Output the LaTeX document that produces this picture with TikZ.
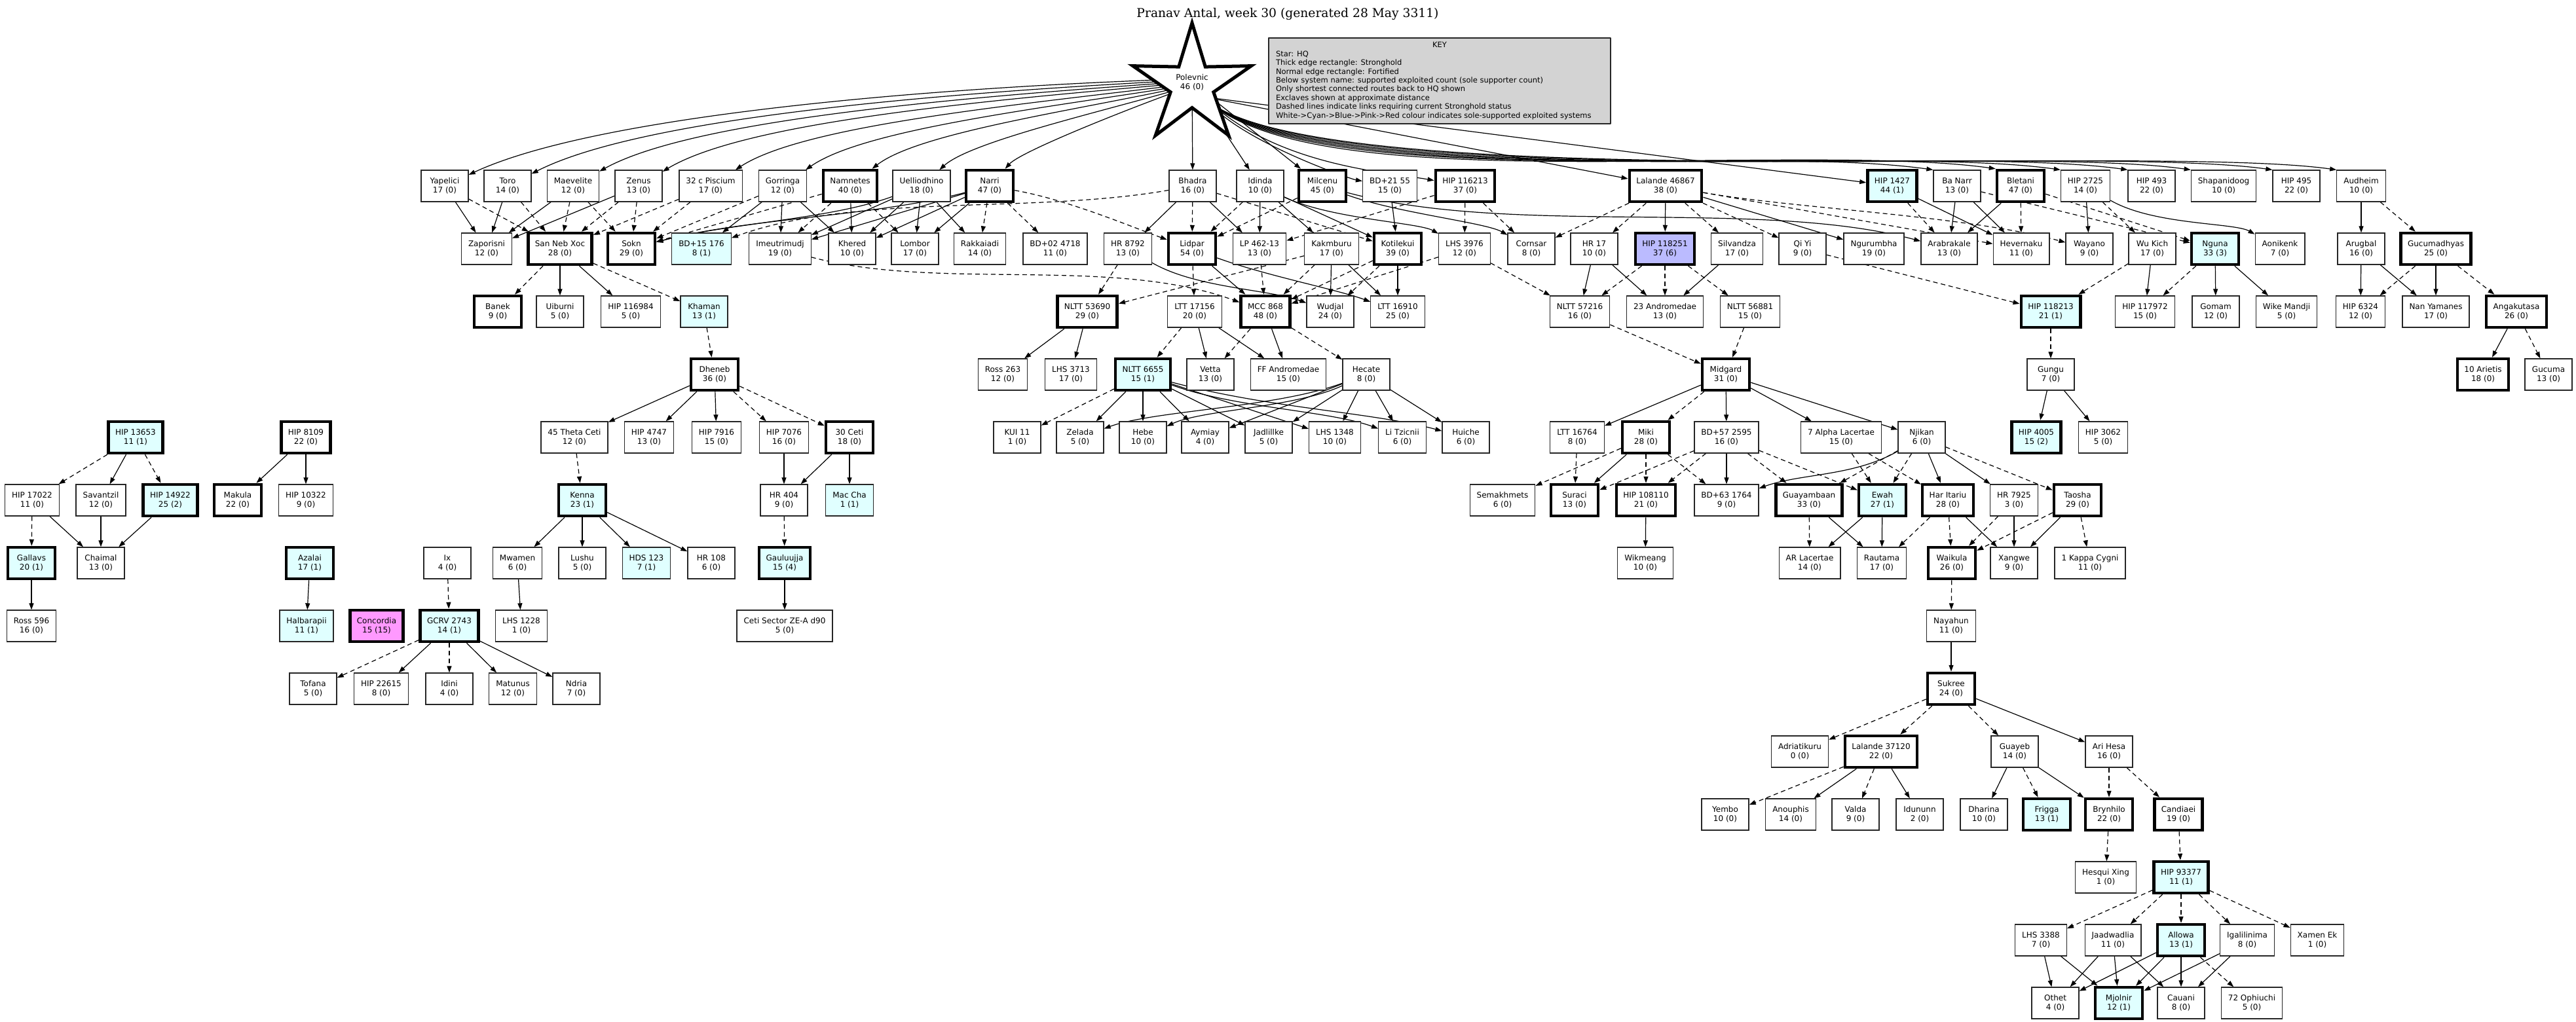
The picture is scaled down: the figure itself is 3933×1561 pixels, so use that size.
\documentclass[tikz,border=0pt]{standalone}
\usepackage{fontspec}
\setmainfont{DejaVu Sans}
\newfontfamily\serifface{DejaVu Serif}
\usepackage{tikz}
\usetikzlibrary{arrows.meta}
\pgfdeclarelayer{background}
\pgfsetlayers{background,main}
\definecolor{solecyan}{HTML}{E0FFFF}
\definecolor{soleblue}{HTML}{BBBBFF}
\definecolor{solepink}{HTML}{FF99FF}
\definecolor{keygray}{HTML}{D3D3D3}
\newcommand{\sysfont}{\fontsize{12bp}{13.8bp}\selectfont}
\newcommand{\keyfont}{\fontsize{11.5bp}{13.4bp}\selectfont}
\newcommand{\headfont}{\fontsize{18.7bp}{22bp}\selectfont\serifface}

\begin{document}
\begin{tikzpicture}[>={Triangle[length=10bp,width=7bp]},line join=bevel,
  sys/.style={draw=black!85,line width=1.3bp,line join=miter,fill=white,minimum width=72bp,minimum height=48bp,inner xsep=10.5bp,inner ysep=2bp,align=center,font=\sysfont},
  hold/.style={sys,draw=black,line width=4.5bp},
  sole/.style={fill=solecyan},
  link/.style={black,->,line width=1.2bp},
  slink/.style={link,dash pattern=on 7bp off 5bp}]
\begin{pgfonlayer}{background}
\path [use as bounding box,fill=white] (0bp,0bp) rectangle (3933bp,-1561bp);
\end{pgfonlayer}
%%
\node (title) at (1966bp,-21bp) [font=\headfont] {Pranav Antal, week 30 (generated 28 May 3311)};
\draw [line width=5bp,line join=miter,fill=white] (1820bp,-130bp) +(90:95bp) -- +(126:34.5bp) -- +(162:95bp) -- +(198:34.5bp) -- +(234:95bp) -- +(270:34.5bp) -- +(306:95bp) -- +(342:34.5bp) -- +(18:95bp) -- +(54:34.5bp) -- cycle;
\node (hq) at (1820bp,-126bp) [circle,minimum size=50bp,inner sep=0pt,align=center,font=\sysfont] {Polevnic\\46 (0)};
\node (key) at (2198bp,-123.5bp) [draw=black!85,line width=1.3bp,fill=keygray,inner xsep=11bp,inner ysep=0bp,minimum height=131bp,font=\keyfont] {\parbox{500bp}{\raggedright\makebox[500bp]{KEY}\\Star: HQ\\Thick edge rectangle: Stronghold\\Normal edge rectangle: Fortified\\Below system name: supported exploited count (sole supporter count)\\Only shortest connected routes back to HQ shown\\Exclaves shown at approximate distance\\Dashed lines indicate links requiring current Stronghold status\\White->Cyan->Blue->Pink->Red colour indicates sole-supported exploited systems}};
%
\node (yapelici) at (679bp,-284bp) [sys] {Yapelici\\17 (0)};
\node (toro) at (775bp,-284bp) [sys] {Toro\\14 (0)};
\node (maevelite) at (875bp,-284bp) [sys] {Maevelite\\12 (0)};
\node (zenus) at (975bp,-284bp) [sys] {Zenus\\13 (0)};
\node (piscium) at (1085bp,-284bp) [sys] {32 c Piscium\\17 (0)};
\node (gorringa) at (1195bp,-284bp) [sys] {Gorringa\\12 (0)};
\node (namnetes) at (1298bp,-284bp) [hold] {Namnetes\\40 (0)};
\node (uelliodhino) at (1407bp,-284bp) [sys] {Uelliodhino\\18 (0)};
\node (narri) at (1511bp,-284bp) [hold] {Narri\\47 (0)};
\node (bhadra) at (1821bp,-284bp) [sys] {Bhadra\\16 (0)};
\node (idinda) at (1924bp,-284bp) [sys] {Idinda\\10 (0)};
\node (milcenu) at (2019bp,-284bp) [hold] {Milcenu\\45 (0)};
\node (bd2155) at (2122bp,-284bp) [sys] {BD+21 55\\15 (0)};
\node (hip116213) at (2237bp,-284bp) [hold] {HIP 116213\\37 (0)};
\node (lalande46867) at (2543bp,-284bp) [hold] {Lalande 46867\\38 (0)};
\node (hip1427) at (2889bp,-284bp) [hold,sole] {HIP 1427\\44 (1)};
\node (banarr) at (2988bp,-284bp) [sys] {Ba Narr\\13 (0)};
\node (bletani) at (3085bp,-284bp) [hold] {Bletani\\47 (0)};
\node (hip2725) at (3184bp,-284bp) [sys] {HIP 2725\\14 (0)};
\node (hip493) at (3285bp,-284bp) [sys] {HIP 493\\22 (0)};
\node (shapanidoog) at (3395bp,-284bp) [sys] {Shapanidoog\\10 (0)};
\node (hip495) at (3506bp,-284bp) [sys] {HIP 495\\22 (0)};
\node (audheim) at (3605bp,-284bp) [sys] {Audheim\\10 (0)};
%
\node (zaporisni) at (743bp,-380bp) [sys] {Zaporisni\\12 (0)};
\node (sannebxoc) at (855bp,-380bp) [hold] {San Neb Xoc\\28 (0)};
\node (sokn) at (964bp,-380bp) [hold] {Sokn\\29 (0)};
\node (bd15176) at (1071bp,-380bp) [sys,sole] {BD+15 176\\8 (1)};
\node (imeutrimudj) at (1191bp,-380bp) [sys] {Imeutrimudj\\19 (0)};
\node (khered) at (1301bp,-380bp) [sys] {Khered\\10 (0)};
\node (lombor) at (1397bp,-380bp) [sys] {Lombor\\17 (0)};
\node (rakkaiadi) at (1496bp,-380bp) [sys] {Rakkaiadi\\14 (0)};
\node (bd024718) at (1611bp,-380bp) [sys] {BD+02 4718\\11 (0)};
\node (hr8792) at (1722bp,-380bp) [sys] {HR 8792\\13 (0)};
\node (lidpar) at (1820bp,-380bp) [hold] {Lidpar\\54 (0)};
\node (lp46213) at (1923bp,-380bp) [sys] {LP 462-13\\13 (0)};
\node (kakmburu) at (2033bp,-380bp) [sys] {Kakmburu\\17 (0)};
\node (kotilekui) at (2134bp,-380bp) [hold] {Kotilekui\\39 (0)};
\node (lhs3976) at (2236bp,-380bp) [sys] {LHS 3976\\12 (0)};
\node (cornsar) at (2338bp,-380bp) [sys] {Cornsar\\8 (0)};
\node (hr17) at (2434bp,-380bp) [sys] {HR 17\\10 (0)};
\node (hip118251) at (2542bp,-380bp) [hold,fill=soleblue] {HIP 118251\\37 (6)};
\node (silvandza) at (2652bp,-380bp) [sys] {Silvandza\\17 (0)};
\node (qiyi) at (2752bp,-380bp) [sys] {Qi Yi\\9 (0)};
\node (ngurumbha) at (2861bp,-380bp) [sys] {Ngurumbha\\19 (0)};
\node (arabrakale) at (2976bp,-380bp) [sys] {Arabrakale\\13 (0)};
\node (hevernaku) at (3086bp,-380bp) [sys] {Hevernaku\\11 (0)};
\node (wayano) at (3190bp,-380bp) [sys] {Wayano\\9 (0)};
\node (wukich) at (3286bp,-380bp) [sys] {Wu Kich\\17 (0)};
\node (nguna) at (3382bp,-380bp) [hold,sole] {Nguna\\33 (3)};
\node (aonikenk) at (3481bp,-380bp) [sys] {Aonikenk\\7 (0)};
\node (arugbal) at (3605bp,-380bp) [sys] {Arugbal\\16 (0)};
\node (gucumadhyas) at (3719bp,-380bp) [hold] {Gucumadhyas\\25 (0)};
%
\node (banek) at (760bp,-476bp) [hold] {Banek\\9 (0)};
\node (uiburni) at (855bp,-476bp) [sys] {Uiburni\\5 (0)};
\node (hip116984) at (963bp,-476bp) [sys] {HIP 116984\\5 (0)};
\node (khaman) at (1075bp,-476bp) [sys,sole] {Khaman\\13 (1)};
\node (nltt53690) at (1660bp,-476bp) [hold] {NLTT 53690\\29 (0)};
\node (ltt17156) at (1824bp,-476bp) [sys] {LTT 17156\\20 (0)};
\node (mcc868) at (1932bp,-476bp) [hold] {MCC 868\\48 (0)};
\node (wudjal) at (2031bp,-476bp) [sys] {Wudjal\\24 (0)};
\node (ltt16910) at (2134bp,-476bp) [sys] {LTT 16910\\25 (0)};
\node (nltt57216) at (2412bp,-476bp) [sys] {NLTT 57216\\16 (0)};
\node (andromedae) at (2542bp,-476bp) [sys] {23 Andromedae\\13 (0)};
\node (nltt56881) at (2672bp,-476bp) [sys] {NLTT 56881\\15 (0)};
\node (hip118213) at (3131bp,-476bp) [hold,sole] {HIP 118213\\21 (1)};
\node (hip117972) at (3275bp,-476bp) [sys] {HIP 117972\\15 (0)};
\node (gomam) at (3383bp,-476bp) [sys] {Gomam\\12 (0)};
\node (wikemandji) at (3491bp,-476bp) [sys] {Wike Mandji\\5 (0)};
\node (hip6324) at (3604bp,-476bp) [sys] {HIP 6324\\12 (0)};
\node (nanyamanes) at (3719bp,-476bp) [sys] {Nan Yamanes\\17 (0)};
\node (angakutasa) at (3842bp,-476bp) [hold] {Angakutasa\\26 (0)};
%
\node (dheneb) at (1091bp,-572bp) [hold] {Dheneb\\36 (0)};
\node (ross263) at (1531bp,-572bp) [sys] {Ross 263\\12 (0)};
\node (lhs3713) at (1635bp,-572bp) [sys] {LHS 3713\\17 (0)};
\node (nltt6655) at (1745bp,-572bp) [hold,sole] {NLTT 6655\\15 (1)};
\node (vetta) at (1848bp,-572bp) [sys] {Vetta\\13 (0)};
\node (ffandromedae) at (1967bp,-572bp) [sys] {FF Andromedae\\15 (0)};
\node (hecate) at (2086bp,-572bp) [sys] {Hecate\\8 (0)};
\node (midgard) at (2635bp,-572bp) [hold] {Midgard\\31 (0)};
\node (gungu) at (3131bp,-572bp) [sys] {Gungu\\7 (0)};
\node (arietis) at (3791bp,-572bp) [hold] {10 Arietis\\18 (0)};
\node (gucuma) at (3891bp,-572bp) [sys] {Gucuma\\13 (0)};
%
\node (hip13653) at (207bp,-668bp) [hold,sole] {HIP 13653\\11 (1)};
\node (hip8109) at (467bp,-668bp) [hold] {HIP 8109\\22 (0)};
\node (thetaceti) at (877bp,-668bp) [sys] {45 Theta Ceti\\12 (0)};
\node (hip4747) at (991bp,-668bp) [sys] {HIP 4747\\13 (0)};
\node (hip7916) at (1094bp,-668bp) [sys] {HIP 7916\\15 (0)};
\node (hip7076) at (1197bp,-668bp) [sys] {HIP 7076\\16 (0)};
\node (ceti30) at (1297bp,-668bp) [hold] {30 Ceti\\18 (0)};
\node (kui11) at (1553bp,-668bp) [sys] {KUI 11\\1 (0)};
\node (zelada) at (1649bp,-668bp) [sys] {Zelada\\5 (0)};
\node (hebe) at (1745bp,-668bp) [sys] {Hebe\\10 (0)};
\node (aymiay) at (1840bp,-668bp) [sys] {Aymiay\\4 (0)};
\node (jadlillke) at (1937bp,-668bp) [sys] {Jadlillke\\5 (0)};
\node (lhs1348) at (2038bp,-668bp) [sys] {LHS 1348\\10 (0)};
\node (litzicnii) at (2141bp,-668bp) [sys] {Li Tzicnii\\6 (0)};
\node (huiche) at (2238bp,-668bp) [sys] {Huiche\\6 (0)};
\node (ltt16764) at (2408bp,-668bp) [sys] {LTT 16764\\8 (0)};
\node (miki) at (2513bp,-668bp) [hold] {Miki\\28 (0)};
\node (bd572595) at (2636bp,-668bp) [sys] {BD+57 2595\\16 (0)};
\node (alphalac) at (2811bp,-668bp) [sys] {7 Alpha Lacertae\\15 (0)};
\node (njikan) at (2934bp,-668bp) [sys] {Njikan\\6 (0)};
\node (hip4005) at (3109bp,-668bp) [hold,sole] {HIP 4005\\15 (2)};
\node (hip3062) at (3211bp,-668bp) [sys] {HIP 3062\\5 (0)};
%
\node (hip17022) at (49bp,-764bp) [sys] {HIP 17022\\11 (0)};
\node (savantzil) at (154bp,-764bp) [sys] {Savantzil\\12 (0)};
\node (hip14922) at (260bp,-764bp) [hold,sole] {HIP 14922\\25 (2)};
\node (makula) at (363bp,-764bp) [hold] {Makula\\22 (0)};
\node (hip10322) at (467bp,-764bp) [sys] {HIP 10322\\9 (0)};
\node (kenna) at (889bp,-764bp) [hold,sole] {Kenna\\23 (1)};
\node (hr404) at (1197bp,-764bp) [sys] {HR 404\\9 (0)};
\node (maccha) at (1297bp,-764bp) [sys,sole] {Mac Cha\\1 (1)};
\node (semakhmets) at (2294bp,-764bp) [sys] {Semakhmets\\6 (0)};
\node (suraci) at (2404bp,-764bp) [hold] {Suraci\\13 (0)};
\node (hip108110) at (2513bp,-764bp) [hold] {HIP 108110\\21 (0)};
\node (bd631764) at (2636bp,-764bp) [sys] {BD+63 1764\\9 (0)};
\node (guayambaan) at (2762bp,-764bp) [hold] {Guayambaan\\33 (0)};
\node (ewah) at (2874bp,-764bp) [hold,sole] {Ewah\\27 (1)};
\node (haritariu) at (2974bp,-764bp) [hold] {Har Itariu\\28 (0)};
\node (hr7925) at (3075bp,-764bp) [sys] {HR 7925\\3 (0)};
\node (taosha) at (3172bp,-764bp) [hold] {Taosha\\29 (0)};
%
\node (gallavs) at (48bp,-860bp) [hold,sole] {Gallavs\\20 (1)};
\node (chaimal) at (154bp,-860bp) [sys] {Chaimal\\13 (0)};
\node (azalai) at (473bp,-860bp) [hold,sole] {Azalai\\17 (1)};
\node (ix) at (683bp,-860bp) [sys] {Ix\\4 (0)};
\node (mwamen) at (790bp,-860bp) [sys] {Mwamen\\6 (0)};
\node (lushu) at (889bp,-860bp) [sys] {Lushu\\5 (0)};
\node (hds123) at (987bp,-860bp) [sys,sole] {HDS 123\\7 (1)};
\node (hr108) at (1086bp,-860bp) [sys] {HR 108\\6 (0)};
\node (gauluujja) at (1198bp,-860bp) [hold,sole] {Gauluujja\\15 (4)};
\node (wikmeang) at (2512bp,-860bp) [sys] {Wikmeang\\10 (0)};
\node (arlacertae) at (2763bp,-860bp) [sys] {AR Lacertae\\14 (0)};
\node (rautama) at (2873bp,-860bp) [sys] {Rautama\\17 (0)};
\node (waikula) at (2980bp,-860bp) [hold] {Waikula\\26 (0)};
\node (xangwe) at (3075bp,-860bp) [sys] {Xangwe\\9 (0)};
\node (kappacygni) at (3191bp,-860bp) [sys] {1 Kappa Cygni\\11 (0)};
%
\node (ross596) at (48bp,-956bp) [sys] {Ross 596\\16 (0)};
\node (halbarapii) at (468bp,-956bp) [sys,sole] {Halbarapii\\11 (1)};
\node (concordia) at (575bp,-956bp) [hold,fill=solepink] {Concordia\\15 (15)};
\node (gcrv2743) at (686bp,-956bp) [hold,sole] {GCRV 2743\\14 (1)};
\node (lhs1228) at (796bp,-956bp) [sys] {LHS 1228\\1 (0)};
\node (cetisector) at (1198bp,-956bp) [sys] {Ceti Sector ZE-A d90\\5 (0)};
\node (nayahun) at (2979bp,-956bp) [sys] {Nayahun\\11 (0)};
%
\node (tofana) at (478bp,-1052bp) [sys] {Tofana\\5 (0)};
\node (hip22615) at (582bp,-1052bp) [sys] {HIP 22615\\8 (0)};
\node (idini) at (686bp,-1052bp) [sys] {Idini\\4 (0)};
\node (matunus) at (783bp,-1052bp) [sys] {Matunus\\12 (0)};
\node (ndria) at (880bp,-1052bp) [sys] {Ndria\\7 (0)};
\node (sukree) at (2979bp,-1052bp) [hold] {Sukree\\24 (0)};
%
\node (adriatikuru) at (2748bp,-1148bp) [sys] {Adriatikuru\\0 (0)};
\node (lalande37120) at (2872bp,-1148bp) [hold] {Lalande 37120\\22 (0)};
\node (guayeb) at (3076bp,-1148bp) [sys] {Guayeb\\14 (0)};
\node (arihesa) at (3220bp,-1148bp) [sys] {Ari Hesa\\16 (0)};
%
\node (yembo) at (2634bp,-1244bp) [sys] {Yembo\\10 (0)};
\node (anouphis) at (2734bp,-1244bp) [sys] {Anouphis\\14 (0)};
\node (valda) at (2833bp,-1244bp) [sys] {Valda\\9 (0)};
\node (idununn) at (2931bp,-1244bp) [sys] {Idununn\\2 (0)};
\node (dharina) at (3029bp,-1244bp) [sys] {Dharina\\10 (0)};
\node (frigga) at (3125bp,-1244bp) [hold,sole] {Frigga\\13 (1)};
\node (brynhilo) at (3220bp,-1244bp) [hold] {Brynhilo\\22 (0)};
\node (candiaei) at (3326bp,-1244bp) [hold] {Candiaei\\19 (0)};
%
\node (hesquixing) at (3215bp,-1340bp) [sys] {Hesqui Xing\\1 (0)};
\node (hip93377) at (3330bp,-1340bp) [hold,sole] {HIP 93377\\11 (1)};
\node (lhs3388) at (3116bp,-1436bp) [sys] {LHS 3388\\7 (0)};
\node (jaadwadlia) at (3226bp,-1436bp) [sys] {Jaadwadlia\\11 (0)};
\node (allowa) at (3330bp,-1436bp) [hold,sole] {Allowa\\13 (1)};
\node (igalilinima) at (3431bp,-1436bp) [sys] {Igalilinima\\8 (0)};
\node (xamenek) at (3538bp,-1436bp) [sys] {Xamen Ek\\1 (0)};
\node (othet) at (3138bp,-1532bp) [sys] {Othet\\4 (0)};
\node (mjolnir) at (3235bp,-1532bp) [hold,sole] {Mjolnir\\12 (1)};
\node (cauani) at (3330bp,-1532bp) [sys] {Cauani\\8 (0)};
\node (ophiuchi) at (3438bp,-1532bp) [sys] {72 Ophiuchi\\5 (0)};
%
\begin{pgfonlayer}{background}
\draw [link] (hq.170) .. controls +(182:400bp) and +(25:250bp) .. (yapelici);
\draw [link] (hq.175) .. controls +(183:360bp) and +(27:230bp) .. (toro);
\draw [link] (hq.180) .. controls +(184:320bp) and +(29:210bp) .. (maevelite);
\draw [link] (hq.185) .. controls +(185:290bp) and +(31:190bp) .. (zenus);
\draw [link] (hq.190) .. controls +(187:250bp) and +(33:170bp) .. (piscium);
\draw [link] (hq.195) .. controls +(189:210bp) and +(35:150bp) .. (gorringa);
\draw [link] (hq.200) .. controls +(192:170bp) and +(38:130bp) .. (namnetes);
\draw [link] (hq.205) .. controls +(196:130bp) and +(42:100bp) .. (uelliodhino);
\draw [link] (hq.210) .. controls +(200:90bp) and +(48:70bp) .. (narri);
\draw [link] (hq) -- (bhadra);
\draw [link] (hq) -- (idinda);
\draw [link] (hq) -- (milcenu);
\draw [link] (hq.-50) .. controls +(-55:80bp) and +(170:60bp) .. (bd2155);
\draw [link] (hq.-50) .. controls +(-45:150bp) and +(170:120bp) .. (hip116213);
\draw [link] (hq.-52) -- (lalande46867);
\draw [link] (hq.-52) -- (hip1427);
\draw [link] (hq.-52) .. controls +(-45:220bp) and +(172:300bp) .. (banarr.north west);
\draw [link] (hq.-52) .. controls +(-45:220bp) and +(172:300bp) .. (bletani.north west);
\draw [link] (hq.-52) .. controls +(-45:220bp) and +(172:300bp) .. (hip2725.north west);
\draw [link] (hq.-52) .. controls +(-45:220bp) and +(172:300bp) .. (hip493.north west);
\draw [link] (hq.-52) .. controls +(-45:220bp) and +(172:300bp) .. (shapanidoog.north west);
\draw [link] (hq.-52) .. controls +(-45:220bp) and +(172:300bp) .. (hip495.north west);
\draw [link] (hq.-52) .. controls +(-45:220bp) and +(172:300bp) .. (audheim.north west);
%
\draw [link] (yapelici) -- (zaporisni);
\draw [slink] (yapelici) -- (sannebxoc);
\draw [link] (toro) -- (zaporisni);
\draw [slink] (toro) -- (sannebxoc);
\draw [link] (maevelite) -- (zaporisni);
\draw [slink] (maevelite) -- (sannebxoc);
\draw [slink] (maevelite) -- (sokn);
\draw [link] (zenus) -- (zaporisni);
\draw [slink] (zenus) -- (sannebxoc);
\draw [slink] (zenus) -- (sokn);
\draw [slink] (piscium) -- (sannebxoc);
\draw [slink] (piscium) -- (sokn);
\draw [slink] (gorringa) -- (sokn);
\draw [link] (gorringa) -- (bd15176);
\draw [link] (gorringa) -- (imeutrimudj);
\draw [link] (gorringa) -- (khered);
\draw [slink] (namnetes) -- (sokn);
\draw [slink] (namnetes) -- (imeutrimudj);
\draw [link] (namnetes) -- (khered);
\draw [slink] (namnetes) -- (lombor);
\draw [link] (uelliodhino) .. controls +(-160:150bp) and +(15:150bp) .. (sokn);
\draw [link] (uelliodhino) -- (imeutrimudj);
\draw [link] (uelliodhino) -- (khered);
\draw [link] (uelliodhino) -- (lombor);
\draw [link] (uelliodhino) -- (rakkaiadi);
\draw [link] (narri) .. controls +(-165:180bp) and +(15:180bp) .. (sokn);
\draw [link] (narri) -- (imeutrimudj);
\draw [link] (narri) -- (khered);
\draw [link] (narri) -- (lombor);
\draw [slink] (narri) -- (rakkaiadi);
\draw [slink] (narri) -- (bd024718);
\draw [slink] (narri) .. controls +(-10:120bp) and +(160:100bp) .. (lidpar);
\draw [slink] (bhadra) .. controls +(190:250bp) and +(20:250bp) .. (bd15176);
\draw [link] (bhadra) -- (hr8792);
\draw [slink] (bhadra) -- (lidpar);
\draw [link] (bhadra) -- (lp46213);
\draw [slink] (bhadra) -- (kotilekui);
\draw [slink] (idinda) -- (lidpar);
\draw [link] (idinda) -- (lp46213);
\draw [link] (idinda) -- (kakmburu);
\draw [link] (idinda) -- (kotilekui);
\draw [link] (idinda) .. controls +(-25:120bp) and +(150:80bp) .. (lhs3976);
\draw [slink] (milcenu) -- (lidpar);
\draw [link] (milcenu) .. controls +(-20:120bp) and +(150:80bp) .. (cornsar);
\draw [link] (milcenu) .. controls +(-15:300bp) and +(165:300bp) .. (arabrakale);
\draw [link] (bd2155) -- (kotilekui);
\draw [slink] (hip116213) -- (lp46213);
\draw [slink] (hip116213) -- (lhs3976);
\draw [slink] (hip116213) -- (cornsar);
\draw [slink] (lalande46867) -- (cornsar);
\draw [slink] (lalande46867) -- (hr17);
\draw [link] (lalande46867) -- (hip118251);
\draw [slink] (lalande46867) -- (silvandza);
\draw [slink] (lalande46867) -- (qiyi);
\draw [link] (lalande46867) -- (ngurumbha);
\draw [slink] (lalande46867) -- (hevernaku);
\draw [slink] (lalande46867) .. controls +(-10:200bp) and +(165:200bp) .. (wayano);
\draw [slink] (hip1427) -- (arabrakale);
\draw [link] (hip1427) -- (hevernaku);
\draw [link] (banarr) -- (arabrakale);
\draw [link] (banarr) -- (hevernaku);
\draw [slink] (banarr) -- (nguna);
\draw [link] (bletani) -- (arabrakale);
\draw [slink] (bletani) -- (hevernaku);
\draw [slink] (bletani) -- (nguna);
\draw [link] (hip2725) -- (wayano);
\draw [slink] (hip2725) -- (wukich);
\draw [link] (hip2725) .. controls +(-30:120bp) and +(150:80bp) .. (aonikenk);
\draw [link] (audheim) -- (arugbal);
\draw [slink] (audheim) -- (gucumadhyas);
%
\draw [slink] (sannebxoc) -- (banek);
\draw [link] (sannebxoc) -- (uiburni);
\draw [link] (sannebxoc) -- (hip116984);
\draw [slink] (sannebxoc) -- (khaman);
\draw [slink] (imeutrimudj) .. controls +(-15:250bp) and +(160:250bp) .. (mcc868);
\draw [slink] (hr8792) -- (nltt53690);
\draw [link] (hr8792) .. controls +(-30:120bp) and +(160:100bp) .. (wudjal);
\draw [slink] (lidpar) -- (ltt17156);
\draw [link] (lidpar) -- (mcc868);
\draw [link] (lidpar) .. controls +(-20:120bp) and +(160:100bp) .. (ltt16910);
\draw [slink] (lp46213) -- (mcc868);
\draw [slink] (kakmburu) -- (nltt53690);
\draw [slink] (kakmburu) -- (mcc868);
\draw [link] (kakmburu) -- (wudjal);
\draw [link] (kakmburu) -- (ltt16910);
\draw [link] (kotilekui) -- (ltt16910);
\draw [slink] (kotilekui) -- (wudjal);
\draw [slink] (kotilekui) -- (mcc868);
\draw [slink] (lhs3976) -- (mcc868);
\draw [slink] (lhs3976) -- (nltt57216);
\draw [link] (hr17) -- (nltt57216);
\draw [link] (hr17) -- (andromedae);
\draw [slink] (hip118251) -- (nltt57216);
\draw [slink] (hip118251) -- (andromedae);
\draw [slink] (hip118251) -- (nltt56881);
\draw [link] (silvandza) -- (andromedae);
\draw [slink] (qiyi) -- (hip118213);
\draw [slink] (wukich) -- (hip118213);
\draw [link] (wukich) -- (hip117972);
\draw [slink] (nguna) -- (hip117972);
\draw [link] (nguna) -- (gomam);
\draw [link] (nguna) -- (wikemandji);
\draw [link] (arugbal) -- (hip6324);
\draw [link] (arugbal) -- (nanyamanes);
\draw [slink] (gucumadhyas) -- (hip6324);
\draw [link] (gucumadhyas) -- (nanyamanes);
\draw [slink] (gucumadhyas) -- (angakutasa);
%
\draw [slink] (khaman) -- (dheneb);
\draw [link] (nltt53690) -- (ross263);
\draw [link] (nltt53690) -- (lhs3713);
\draw [slink] (ltt17156) -- (nltt6655);
\draw [link] (ltt17156) -- (vetta);
\draw [link] (ltt17156) -- (ffandromedae);
\draw [slink] (mcc868) -- (vetta);
\draw [link] (mcc868) -- (ffandromedae);
\draw [slink] (mcc868) -- (hecate);
\draw [slink] (nltt57216) -- (midgard);
\draw [slink] (nltt56881) -- (midgard);
\draw [slink] (hip118213) -- (gungu);
\draw [link] (angakutasa) -- (arietis);
\draw [slink] (angakutasa) -- (gucuma);
%
\draw [link] (dheneb) -- (thetaceti);
\draw [link] (dheneb) -- (hip4747);
\draw [link] (dheneb) -- (hip7916);
\draw [slink] (dheneb) -- (hip7076);
\draw [slink] (dheneb) -- (ceti30);
\draw [slink] (nltt6655) -- (kui11);
\draw [link] (nltt6655) -- (zelada);
\draw [link] (nltt6655) -- (hebe);
\draw [link] (nltt6655) -- (aymiay);
\draw [link] (nltt6655) -- (jadlillke);
\draw [link] (nltt6655) -- (lhs1348);
\draw [link] (nltt6655) .. controls +(-20:150bp) and +(160:120bp) .. (litzicnii);
\draw [link] (nltt6655) .. controls +(-15:200bp) and +(165:150bp) .. (huiche);
\draw [link] (hecate) .. controls +(-160:150bp) and +(20:120bp) .. (zelada);
\draw [link] (hecate) .. controls +(-155:120bp) and +(25:100bp) .. (hebe);
\draw [link] (hecate) -- (aymiay);
\draw [link] (hecate) -- (jadlillke);
\draw [link] (hecate) -- (lhs1348);
\draw [link] (hecate) -- (litzicnii);
\draw [link] (hecate) -- (huiche);
\draw [link] (midgard) -- (ltt16764);
\draw [slink] (midgard) -- (miki);
\draw [link] (midgard) -- (bd572595);
\draw [link] (midgard) -- (alphalac);
\draw [link] (midgard) -- (njikan);
\draw [link] (gungu) -- (hip4005);
\draw [link] (gungu) -- (hip3062);
%
\draw [slink] (hip13653) -- (hip17022);
\draw [link] (hip13653) -- (savantzil);
\draw [slink] (hip13653) -- (hip14922);
\draw [link] (hip8109) -- (makula);
\draw [link] (hip8109) -- (hip10322);
\draw [slink] (thetaceti) -- (kenna);
\draw [link] (hip7076) -- (hr404);
\draw [link] (ceti30) -- (hr404);
\draw [link] (ceti30) -- (maccha);
\draw [slink] (ltt16764) -- (suraci);
\draw [slink] (miki) -- (semakhmets);
\draw [link] (miki) -- (suraci);
\draw [slink] (miki) -- (hip108110);
\draw [slink] (miki) -- (bd631764);
\draw [slink] (bd572595) -- (suraci);
\draw [slink] (bd572595) -- (hip108110);
\draw [link] (bd572595) -- (bd631764);
\draw [slink] (bd572595) -- (guayambaan);
\draw [slink] (bd572595) -- (ewah);
\draw [slink] (alphalac) -- (ewah);
\draw [slink] (alphalac) -- (haritariu);
\draw [link] (njikan) .. controls +(-150:120bp) and +(20:120bp) .. (bd631764);
\draw [slink] (njikan) -- (guayambaan);
\draw [slink] (njikan) -- (ewah);
\draw [link] (njikan) -- (haritariu);
\draw [link] (njikan) -- (hr7925);
\draw [slink] (njikan) -- (taosha);
%
\draw [slink] (hip17022) -- (gallavs);
\draw [link] (hip17022) -- (chaimal);
\draw [link] (savantzil) -- (chaimal);
\draw [link] (hip14922) -- (chaimal);
\draw [link] (kenna) -- (mwamen);
\draw [link] (kenna) -- (lushu);
\draw [link] (kenna) -- (hds123);
\draw [link] (kenna) -- (hr108);
\draw [slink] (hr404) -- (gauluujja);
\draw [link] (hip108110) -- (wikmeang);
\draw [slink] (guayambaan) -- (arlacertae);
\draw [link] (guayambaan) -- (rautama);
\draw [link] (ewah) -- (arlacertae);
\draw [link] (ewah) -- (rautama);
\draw [slink] (haritariu) -- (rautama);
\draw [slink] (haritariu) -- (waikula);
\draw [link] (haritariu) -- (xangwe);
\draw [slink] (hr7925) -- (waikula);
\draw [link] (hr7925) -- (xangwe);
\draw [slink] (taosha) -- (waikula);
\draw [link] (taosha) -- (xangwe);
\draw [slink] (taosha) -- (kappacygni);
%
\draw [link] (gallavs) -- (ross596);
\draw [link] (azalai) -- (halbarapii);
\draw [slink] (ix) -- (gcrv2743);
\draw [link] (mwamen) -- (lhs1228);
\draw [link] (gauluujja) -- (cetisector);
\draw [slink] (waikula) -- (nayahun);
\draw [slink] (gcrv2743) -- (tofana);
\draw [link] (gcrv2743) -- (hip22615);
\draw [slink] (gcrv2743) -- (idini);
\draw [link] (gcrv2743) -- (matunus);
\draw [link] (gcrv2743) -- (ndria);
\draw [link] (nayahun) -- (sukree);
%
\draw [slink] (sukree) -- (adriatikuru);
\draw [slink] (sukree) -- (lalande37120);
\draw [slink] (sukree) -- (guayeb);
\draw [link] (sukree) -- (arihesa);
\draw [slink] (lalande37120) -- (yembo);
\draw [link] (lalande37120) -- (anouphis);
\draw [slink] (lalande37120) -- (valda);
\draw [link] (lalande37120) -- (idununn);
\draw [link] (guayeb) -- (dharina);
\draw [slink] (guayeb) -- (frigga);
\draw [link] (guayeb) -- (brynhilo);
\draw [slink] (arihesa) -- (brynhilo);
\draw [slink] (arihesa) -- (candiaei);
\draw [slink] (brynhilo) -- (hesquixing);
\draw [slink] (candiaei) -- (hip93377);
\draw [slink] (hip93377) -- (lhs3388);
\draw [slink] (hip93377) -- (jaadwadlia);
\draw [slink] (hip93377) -- (allowa);
\draw [slink] (hip93377) -- (igalilinima);
\draw [slink] (hip93377) -- (xamenek);
\draw [link] (lhs3388) -- (othet);
\draw [link] (lhs3388) -- (mjolnir);
\draw [link] (jaadwadlia) -- (othet);
\draw [link] (jaadwadlia) -- (mjolnir);
\draw [link] (jaadwadlia) -- (cauani);
\draw [link] (allowa) -- (othet);
\draw [link] (allowa) -- (mjolnir);
\draw [link] (allowa) -- (cauani);
\draw [slink] (allowa) -- (ophiuchi);
\draw [link] (igalilinima) -- (mjolnir);
\draw [link] (igalilinima) -- (cauani);
\end{pgfonlayer}
%
\end{tikzpicture}
\end{document}
